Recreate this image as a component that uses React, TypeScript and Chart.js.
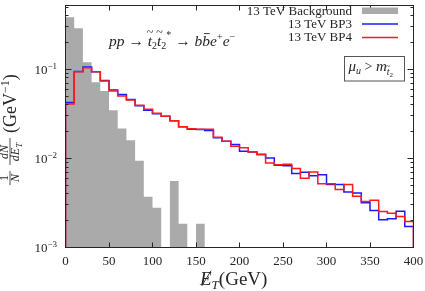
import React, { useEffect, useRef } from 'react';
import { Chart, registerables } from 'chart.js';

Chart.register(...registerables);

// ---------- data ----------
const BIN_LEFT = [
  0, 10, 20, 30, 40, 50, 60, 70, 80, 90,
  100, 110, 120, 130, 140, 150, 160, 170, 180, 190,
  200, 210, 220, 230, 240, 250, 260, 270, 280, 290,
  300, 310, 320, 330, 340, 350, 360, 370, 380, 390,
];
const X_MAX = 400;

const BACKGROUND = [
  0.385, 0.289, 0.12, 0.0714, 0.057, 0.0348, 0.0217, 0.016, 0.0094, 0.0037,
  0.0028, 0, 0.00557, 0.00185, 0, 0.00185, 0, 0, 0, 0,
  0, 0, 0, 0, 0, 0, 0, 0, 0, 0,
  0, 0, 0, 0, 0, 0, 0, 0, 0, 0,
];
const BP3 = [
  0.0423, 0.0945, 0.106, 0.094, 0.0748, 0.0585, 0.0523, 0.0457, 0.0389, 0.0348,
  0.0318, 0.0298, 0.0265, 0.0227, 0.0213, 0.0211, 0.0205, 0.0171, 0.0156, 0.0143,
  0.012, 0.0118, 0.0111, 0.0101, 0.00837, 0.00826, 0.00675, 0.00698, 0.00638, 0.00655,
  0.00508, 0.00508, 0.00419, 0.00408, 0.00318, 0.00261, 0.00205, 0.0021, 0.00256, 0.00172,
];
const BP4 = [
  0.0407, 0.094, 0.1042, 0.094, 0.0738, 0.057, 0.0501, 0.0451, 0.0396, 0.0355,
  0.0322, 0.0298, 0.0265, 0.0227, 0.0215, 0.0213, 0.0212, 0.0173, 0.0156, 0.0137,
  0.0132, 0.0118, 0.011, 0.00889, 0.00848, 0.00859, 0.00769, 0.00598, 0.00704, 0.00521,
  0.00521, 0.00449, 0.00508, 0.00375, 0.00329, 0.00338, 0.00254, 0.00243, 0.00223, 0.00196,
];

const Y_MIN = 1e-3;
const Y_MAX = 0.52;
const FLOOR = 1e-6; // empty bins fall below the axis
const X_TICKS = [0, 50, 100, 150, 200, 250, 300, 350, 400];
const Y_DECADES = [-3, -2, -1];
const LEGEND_LABELS = ['13 TeV Background', '13 TeV BP3', '13 TeV BP4'];

const GRAY = '#aaaaaa';
const BLUE = '#1a1aff';
const RED = '#ff1a1a';
const INK = '#262626';
const SERIF = '"Liberation Serif", "Times New Roman", serif';

// histogram outline: each point carries the value of the bin that ends at it
function stepPoints(vals: number[]) {
  const f = (v: number) => (v > 0 ? v : FLOOR);
  const pts: { x: number; y: number }[] = [{ x: BIN_LEFT[0], y: FLOOR }];
  pts.push({ x: BIN_LEFT[0], y: f(vals[0]) });
  for (let i = 1; i < vals.length; i++) pts.push({ x: BIN_LEFT[i], y: f(vals[i]) });
  pts.push({ x: X_MAX, y: FLOOR });
  return pts;
}

type Run = { t: string; f: string; dy?: number; tilde?: boolean; bar?: boolean; slash?: boolean };

function drawRuns(ctx: CanvasRenderingContext2D, x: number, y: number, runs: Run[]) {
  let cx = x;
  ctx.textAlign = 'left';
  ctx.textBaseline = 'alphabetic';
  for (const r of runs) {
    ctx.font = r.f;
    const w = ctx.measureText(r.t).width;
    const by = y + (r.dy || 0);
    ctx.fillText(r.t, cx, by);
    const size = parseFloat(r.f.replace(/^[^0-9]*/, ''));
    if (r.tilde) {
      ctx.save();
      ctx.font = `${Math.round(size * 0.75)}px ${SERIF}`;
      ctx.textAlign = 'center';
      ctx.fillText('~', cx + w * 0.55, by - size * 0.62);
      ctx.restore();
    }
    if (r.bar) {
      ctx.save();
      ctx.strokeStyle = INK;
      ctx.lineWidth = 0.9;
      ctx.beginPath();
      ctx.moveTo(cx + w * 0.2, by - size * 0.8);
      ctx.lineTo(cx + w * 0.95, by - size * 0.8);
      ctx.stroke();
      ctx.restore();
    }
    if (r.slash) {
      ctx.save();
      ctx.strokeStyle = INK;
      ctx.lineWidth = 0.9;
      ctx.beginPath();
      ctx.moveTo(cx + w * 0.15, by + size * 0.05);
      ctx.lineTo(cx + w * 0.95, by - size * 0.75);
      ctx.stroke();
      ctx.restore();
    }
    cx += w;
  }
  return cx - x;
}

function runsWidth(ctx: CanvasRenderingContext2D, runs: Run[]) {
  let w = 0;
  for (const r of runs) {
    ctx.font = r.f;
    w += ctx.measureText(r.t).width;
  }
  return w;
}

const it = (s: number) => `italic ${s}px ${SERIF}`;
const rm = (s: number) => `${s}px ${SERIF}`;

const decor = {
  id: 'decor',
  afterDatasetsDraw(chart: any) {
    const { ctx, chartArea: a, scales } = chart;
    const xs = scales.x;
    const ys = scales.y;
    ctx.save();
    ctx.fillStyle = INK;
    ctx.strokeStyle = INK;
    ctx.lineWidth = 1;

    // frame
    ctx.strokeRect(a.left, a.top, a.right - a.left, a.bottom - a.top);

    // x ticks
    ctx.beginPath();
    for (const v of X_TICKS) {
      const px = Math.round(xs.getPixelForValue(v) - 0.5) + 0.5;
      ctx.moveTo(px, a.bottom);
      ctx.lineTo(px, a.bottom - 5);
      ctx.moveTo(px, a.top);
      ctx.lineTo(px, a.top + 5);
    }
    // y ticks
    for (const e of Y_DECADES.concat([0])) {
      for (let m = 1; m <= 9; m++) {
        const v = m * Math.pow(10, e - 1);
        if (v < Y_MIN - 1e-12 || v > Y_MAX) continue;
        const py = Math.round(ys.getPixelForValue(v) - 0.5) + 0.5;
        const len = m === 1 ? 6 : 3;
        ctx.moveTo(a.left, py);
        ctx.lineTo(a.left + len, py);
        ctx.moveTo(a.right, py);
        ctx.lineTo(a.right - len, py);
      }
    }
    ctx.stroke();

    ctx.font = rm(13);
    ctx.textAlign = 'center';
    ctx.textBaseline = 'alphabetic';
    for (const v of X_TICKS) {
      ctx.fillText(String(v), xs.getPixelForValue(v), 265);
    }
    for (const e of Y_DECADES) {
      const py = ys.getPixelForValue(Math.pow(10, e));
      const runs: Run[] = [
        { t: '10', f: rm(13) },
        { t: '\u2212' + String(-e), f: rm(9), dy: -5 },
      ];
      const w = runsWidth(ctx, runs);
      drawRuns(ctx, 57 - w, py + 4.5, runs);
    }

    // legend
    const lx = 352;
    const sx0 = 362;
    const sx1 = 398;
    const rows = [14.5, 27.5, 40.5];
    ctx.font = rm(13);
    ctx.textAlign = 'right';
    LEGEND_LABELS.forEach((lab, i) => ctx.fillText(lab, lx, rows[i]));
    ctx.fillStyle = GRAY;
    ctx.fillRect(sx0, 7.5, sx1 - sx0, 6.5);
    ctx.lineWidth = 1.5;
    ctx.strokeStyle = BLUE;
    ctx.beginPath();
    ctx.moveTo(sx0, 24);
    ctx.lineTo(sx1, 24);
    ctx.stroke();
    ctx.strokeStyle = RED;
    ctx.beginPath();
    ctx.moveTo(sx0, 37.5);
    ctx.lineTo(sx1, 37.5);
    ctx.stroke();

    // process label
    ctx.fillStyle = INK;
    ctx.strokeStyle = INK;
    drawRuns(ctx, 109, 46, [
      { t: 'pp', f: it(15.5) },
      { t: ' \u2192 ', f: rm(15.5) },
      { t: 't', f: it(15.5), tilde: true },
      { t: '2', f: rm(10), dy: 3 },
      { t: 't', f: it(15.5), tilde: true },
      { t: '2', f: rm(10), dy: 3 },
      { t: '*', f: rm(10), dy: -8 },
      { t: ' \u2192 ', f: rm(15.5) },
      { t: 'b', f: it(15.5) },
      { t: 'b', f: it(15.5), bar: true },
      { t: 'e', f: it(15.5) },
      { t: '+', f: rm(10), dy: -6 },
      { t: 'e', f: it(15.5) },
      { t: '\u2212', f: rm(10), dy: -6 },
    ]);

    // mu box
    ctx.lineWidth = 1;
    ctx.strokeStyle = '#555555';
    ctx.strokeRect(344.5, 56.5, 60, 24.5);
    ctx.strokeStyle = INK;
    drawRuns(ctx, 348.5, 71, [
      { t: '\u03bc', f: it(15) },
      { t: 'u', f: it(10), dy: 3 },
      { t: ' > ', f: rm(14) },
      { t: 'm', f: it(15) },
      { t: 't', f: it(10), dy: 4, tilde: true },
      { t: '2', f: rm(7), dy: 6 },
    ]);

    // x title
    drawRuns(ctx, 200, 285, [
      { t: 'E', f: it(19), slash: true },
      { t: 'T', f: it(13), dy: 4 },
      { t: '(GeV)', f: rm(19) },
    ]);

    // y title (rotated)
    ctx.save();
    ctx.translate(0, 190);
    ctx.rotate(-Math.PI / 2);
    ctx.textAlign = 'center';
    ctx.font = rm(12);
    ctx.fillText('1', 12, 8);
    ctx.font = it(12);
    ctx.fillText('N', 12, 18.5);
    ctx.fillText('dN', 38, 8);
    const denom: Run[] = [
      { t: 'dE', f: it(12) },
      { t: 'T', f: it(9), dy: 3 },
    ];
    const dw = runsWidth(ctx, denom);
    drawRuns(ctx, 38 - dw / 2, 18.5, denom);
    ctx.lineWidth = 0.8;
    ctx.beginPath();
    ctx.moveTo(5, 10);
    ctx.lineTo(19, 10);
    ctx.moveTo(25, 10);
    ctx.lineTo(52, 10);
    ctx.stroke();
    drawRuns(ctx, 57, 16, [
      { t: '(GeV', f: rm(18) },
      { t: '\u22121', f: rm(12), dy: -7 },
      { t: ')', f: rm(18) },
    ]);
    ctx.restore();

    ctx.restore();
  },
};

export default function App() {
  const ref = useRef<HTMLCanvasElement>(null);
  useEffect(() => {
    const chart = new Chart(ref.current as HTMLCanvasElement, {
      type: 'line',
      data: {
        datasets: [
          {
            label: LEGEND_LABELS[0],
            data: stepPoints(BACKGROUND),
            stepped: 'before',
            borderWidth: 0,
            borderColor: 'rgba(0,0,0,0)',
            backgroundColor: GRAY,
            fill: 'start',
            pointRadius: 0,
            order: 3,
          },
          {
            label: LEGEND_LABELS[1],
            data: stepPoints(BP3),
            stepped: 'before',
            borderWidth: 1.5,
            borderColor: BLUE,
            fill: false,
            pointRadius: 0,
            order: 2,
          },
          {
            label: LEGEND_LABELS[2],
            data: stepPoints(BP4),
            stepped: 'before',
            borderWidth: 1.5,
            borderColor: RED,
            fill: false,
            pointRadius: 0,
            order: 1,
          },
        ],
      },
      options: {
        animation: false,
        responsive: false,
        devicePixelRatio: 1,
        events: [],
        layout: { padding: { left: 65.5, right: 11.5, top: 5.5, bottom: 43.5 } },
        scales: {
          x: { type: 'linear', min: 0, max: X_MAX, display: false },
          y: { type: 'logarithmic', min: Y_MIN, max: Y_MAX, display: false },
        },
        plugins: {
          legend: { display: false },
          tooltip: { enabled: false },
        },
      },
      plugins: [decor],
    } as any);
    return () => chart.destroy();
  }, []);
  return (
    <div style={{ position: 'fixed', left: 0, top: 0, width: 425, height: 291, background: '#fff' }}>
      <canvas ref={ref} width={425} height={291} style={{ display: 'block', width: 425, height: 291 }} />
    </div>
  );
}
